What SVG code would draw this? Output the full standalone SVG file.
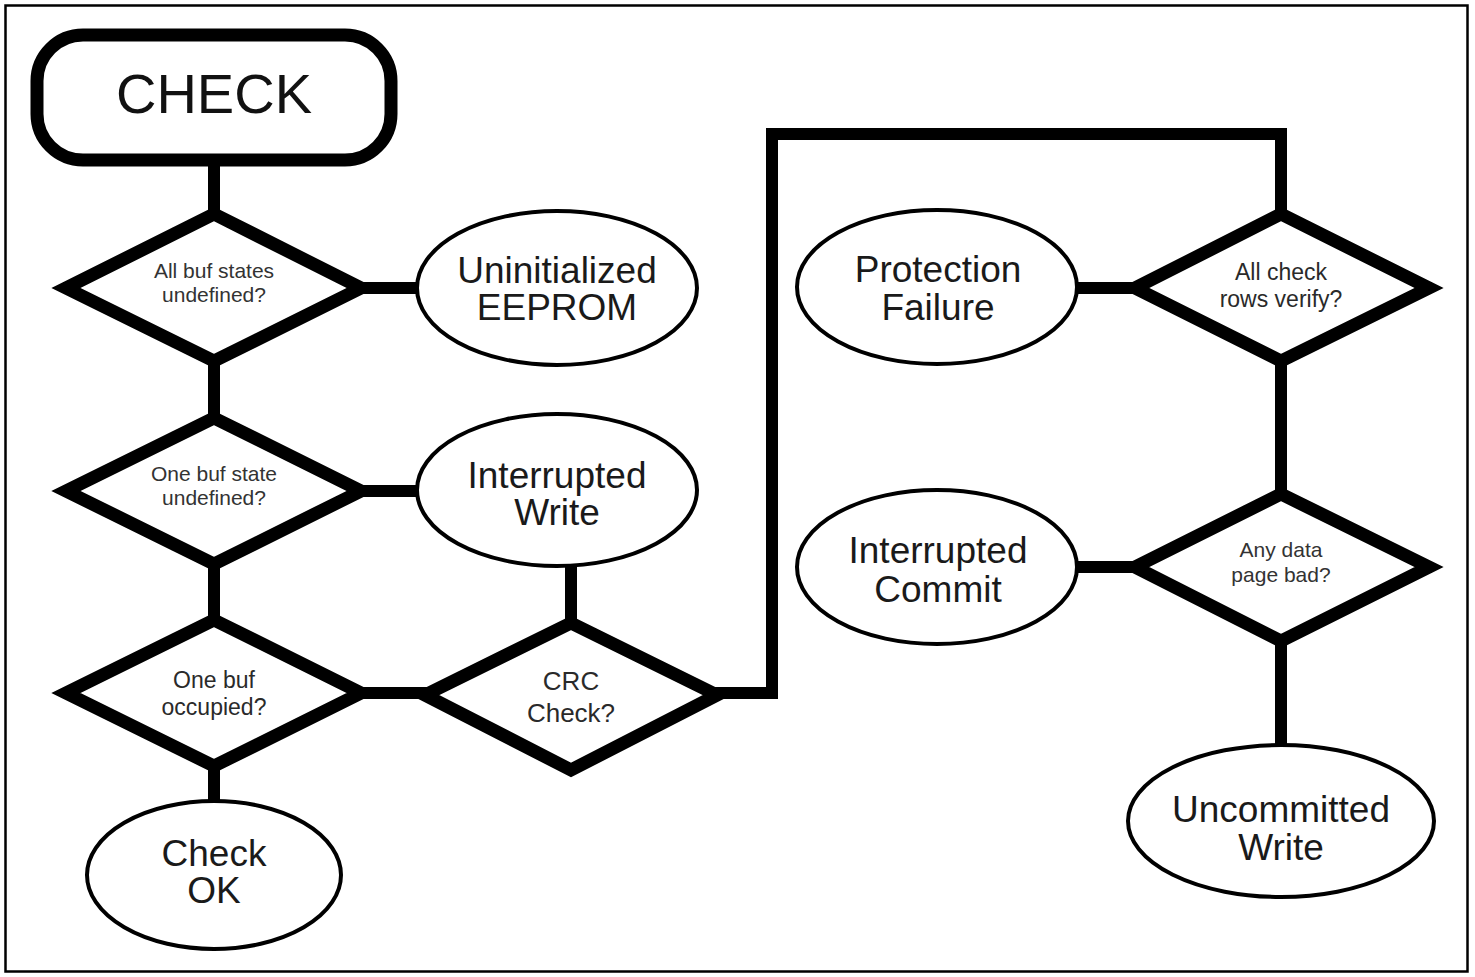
<svg xmlns="http://www.w3.org/2000/svg" width="1475" height="977" viewBox="0 0 1475 977">
<style>
.frame{fill:#fff;stroke:#000;stroke-width:2.5}
.conn{fill:none;stroke:#000;stroke-width:12;stroke-linejoin:miter;stroke-linecap:butt}
.dia{fill:#fff;stroke:#000;stroke-width:13;stroke-linejoin:miter;stroke-miterlimit:10}
.ell{fill:#fff;stroke:#000;stroke-width:4}
.term{fill:#fff;stroke:#000;stroke-width:13}
.big{font-family:"Liberation Sans",Arial,sans-serif;font-size:37px;fill:#1a1a1a;text-anchor:middle}
.title{font-family:"Liberation Sans",Arial,sans-serif;font-size:56px;fill:#111;text-anchor:middle}
.small{font-family:"Liberation Sans",Arial,sans-serif;font-size:21px;fill:#333;text-anchor:middle}
.mid{font-family:"Liberation Sans",Arial,sans-serif;font-size:23px;fill:#2a2a2a;text-anchor:middle}
.crc{font-family:"Liberation Sans",Arial,sans-serif;font-size:26px;fill:#2a2a2a;text-anchor:middle}
</style>
<rect class="frame" x="5.5" y="5.5" width="1462" height="966"/>
<g id="connectors">
<line class="conn" x1="214" y1="158" x2="214" y2="216"/>
<line class="conn" x1="214" y1="358" x2="214" y2="420"/>
<line class="conn" x1="214" y1="562" x2="214" y2="622"/>
<line class="conn" x1="214" y1="764" x2="214" y2="802"/>
<line class="conn" x1="358" y1="288" x2="419" y2="288"/>
<line class="conn" x1="358" y1="491" x2="419" y2="491"/>
<line class="conn" x1="358" y1="693" x2="428" y2="693"/>
<line class="conn" x1="571" y1="564" x2="571" y2="625"/>
<polyline class="conn" points="714,693 772,693 772,134 1281,134 1281,216"/>
<line class="conn" x1="1137" y1="288" x2="1076" y2="288"/>
<line class="conn" x1="1281" y1="358" x2="1281" y2="496"/>
<line class="conn" x1="1137" y1="567" x2="1076" y2="567"/>
<line class="conn" x1="1281" y1="638" x2="1281" y2="747"/>
</g>
<g id="check">
<rect class="term" x="37" y="35" width="354" height="125" rx="46" ry="46"/>
<text class="title" x="214" y="113">CHECK</text>
</g>
<g id="d-all-buf">
<polygon class="dia" points="214,214 361,288 214,361 66,288"/>
<text class="small" x="214" y="278">All buf states<tspan x="214" dy="24">undefined?</tspan></text>
</g>
<g id="uninit">
<ellipse class="ell" cx="557" cy="288" rx="140" ry="77"/>
<text class="big" x="557" y="283">Uninitialized<tspan x="557" dy="37">EEPROM</tspan></text>
</g>
<g id="d-one-state">
<polygon class="dia" points="214,418 361,491 214,564 66,491"/>
<text class="small" x="214" y="481">One buf state<tspan x="214" dy="24">undefined?</tspan></text>
</g>
<g id="int-write">
<ellipse class="ell" cx="557" cy="490" rx="140" ry="76"/>
<text class="big" x="557" y="488">Interrupted<tspan x="557" dy="37">Write</tspan></text>
</g>
<g id="d-occupied">
<polygon class="dia" points="214,620 361,693 214,766 66,693"/>
<text class="mid" x="214" y="688">One buf<tspan x="214" dy="27">occupied?</tspan></text>
</g>
<g id="check-ok">
<ellipse class="ell" cx="214" cy="875" rx="127" ry="74"/>
<text class="big" x="214" y="866">Check<tspan x="214" dy="37">OK</tspan></text>
</g>
<g id="d-crc">
<polygon class="dia" points="571,623 717,695 571,770 425,695"/>
<text class="crc" x="571" y="690">CRC<tspan x="571" dy="32">Check?</tspan></text>
</g>
<g id="d-rows">
<polygon class="dia" points="1281,214 1429,288 1281,361 1135,288"/>
<text class="mid" x="1281" y="280">All check<tspan x="1281" dy="27">rows verify?</tspan></text>
</g>
<g id="prot-fail">
<ellipse class="ell" cx="937" cy="287" rx="140" ry="77"/>
<text class="big" x="938" y="282">Protection<tspan x="938" dy="38">Failure</tspan></text>
</g>
<g id="d-page">
<polygon class="dia" points="1281,494 1429,567 1281,641 1135,567"/>
<text class="small" x="1281" y="557">Any data<tspan x="1281" dy="25">page bad?</tspan></text>
</g>
<g id="int-commit">
<ellipse class="ell" cx="937" cy="567" rx="140" ry="77"/>
<text class="big" x="938" y="563">Interrupted<tspan x="938" dy="39">Commit</tspan></text>
</g>
<g id="uncommitted">
<ellipse class="ell" cx="1281" cy="821" rx="153" ry="76"/>
<text class="big" x="1281" y="822">Uncommitted<tspan x="1281" dy="38">Write</tspan></text>
</g>
</svg>
